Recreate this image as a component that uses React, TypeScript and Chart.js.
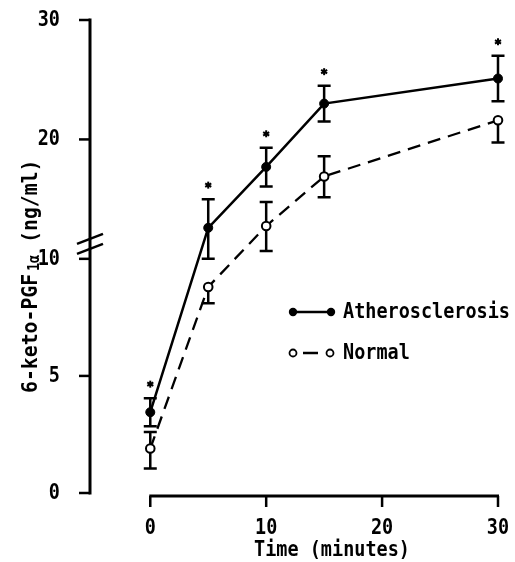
import { useEffect, useRef } from 'react';
import { Chart, registerables } from 'chart.js';

Chart.register(...registerables);

// ---- data ----
const timeMin = [0, 5, 10, 15, 30];
const atheroMean = [3.45, 12.6, 17.7, 23.0, 25.1];
const atheroUp = [0.6, 2.4, 1.6, 1.5, 1.9];
const atheroDown = [0.6, 2.6, 1.65, 1.5, 1.9];
const normalMean = [1.9, 8.8, 12.75, 16.9, 21.6];
const normalUp = [0.7, 0, 2.0, 1.7, 0];
const normalDown = [0.85, 0.7, 2.1, 1.75, 1.85];
const significant = [true, true, true, true, true];
const yTicks = [0, 5, 10, 20, 30];
const xTicks = [0, 10, 20, 30];

const BREAK_AT = 10;
const BREAK_RATIO = 0.51;
const tf = (v: number) => (v <= BREAK_AT ? v : BREAK_AT + (v - BREAK_AT) * BREAK_RATIO);

const FONT = 'bold 22px "DejaVu Sans Mono", "Liberation Mono", monospace';
const SX = 0.84;

function txt(ctx: CanvasRenderingContext2D, s: string, x: number, y: number, align: CanvasTextAlign, font = FONT, sx = SX) {
  ctx.save();
  ctx.translate(x, y);
  ctx.scale(sx, 1);
  ctx.font = font;
  ctx.textAlign = align;
  ctx.textBaseline = 'middle';
  ctx.fillStyle = '#000';
  ctx.fillText(s, 0, 0);
  ctx.restore();
}

const decor = {
  id: 'decor',
  beforeDatasetsDraw(chart: any) {
    const ctx: CanvasRenderingContext2D = chart.ctx;
    const xs = chart.scales.x;
    const ys = chart.scales.y;
    ctx.save();
    ctx.strokeStyle = '#000';
    ctx.lineCap = 'butt';
    // Y axis
    const ax = chart.chartArea.left;
    ctx.lineWidth = 3;
    ctx.beginPath();
    ctx.moveTo(ax, ys.getPixelForValue(tf(30)) - 1.5);
    ctx.lineTo(ax, ys.getPixelForValue(0) + 1.5);
    ctx.stroke();
    ctx.lineWidth = 2.5;
    yTicks.forEach((v) => {
      const py = ys.getPixelForValue(tf(v));
      ctx.beginPath();
      ctx.moveTo(ax - 11, py);
      ctx.lineTo(ax, py);
      ctx.stroke();
      txt(ctx, String(v), ax - 30, py, 'right');
    });
    // break marks
    const bY = ys.getPixelForValue(tf(BREAK_AT)) - 20;
    ctx.lineWidth = 2.5;
    [0, 10].forEach((d) => {
      ctx.beginPath();
      ctx.moveTo(ax - 13, bY + 5 + d);
      ctx.lineTo(ax + 13, bY - 5 + d);
      ctx.stroke();
    });
    // X axis
    const ay = ys.getPixelForValue(0) + 3;
    ctx.lineWidth = 3;
    ctx.beginPath();
    ctx.moveTo(xs.getPixelForValue(0) - 1, ay);
    ctx.lineTo(xs.getPixelForValue(30) + 1, ay);
    ctx.stroke();
    ctx.lineWidth = 2.5;
    xTicks.forEach((v) => {
      const px = xs.getPixelForValue(v);
      ctx.beginPath();
      ctx.moveTo(px, ay);
      ctx.lineTo(px, ay + 11);
      ctx.stroke();
      txt(ctx, String(v), px, ay + 32, 'center');
    });
    // axis titles
    txt(ctx, 'Time (minutes)', 332, 550, 'center');
    ctx.save();
    ctx.translate(37, 393);
    ctx.rotate(-Math.PI / 2);
    ctx.scale(0.9, 1);
    ctx.fillStyle = '#000';
    ctx.textBaseline = 'alphabetic';
    ctx.textAlign = 'left';
    ctx.font = FONT;
    const p1 = '6-keto-PGF';
    ctx.fillText(p1, 0, 0);
    let off = ctx.measureText(p1).width + 3;
    ctx.font = 'bold 15px "DejaVu Sans Mono", monospace';
    ctx.fillText('1α', off, 2);
    off += ctx.measureText('1α').width;
    ctx.font = FONT;
    ctx.fillText(' (ng/ml)', off, 0);
    ctx.restore();

    // error bars
    const drawErr = (mean: number[], up: number[], down: number[]) => {
      ctx.lineWidth = 2.5;
      timeMin.forEach((t, i) => {
        const px = xs.getPixelForValue(t);
        const pm = ys.getPixelForValue(tf(mean[i]));
        if (up[i] > 0) {
          const pu = ys.getPixelForValue(tf(mean[i] + up[i]));
          ctx.beginPath();
          ctx.moveTo(px, pm);
          ctx.lineTo(px, pu);
          ctx.moveTo(px - 6.5, pu);
          ctx.lineTo(px + 6.5, pu);
          ctx.stroke();
        }
        if (down[i] > 0) {
          const pd = ys.getPixelForValue(tf(mean[i] - down[i]));
          ctx.beginPath();
          ctx.moveTo(px, pm);
          ctx.lineTo(px, pd);
          ctx.moveTo(px - 6.5, pd);
          ctx.lineTo(px + 6.5, pd);
          ctx.stroke();
        }
      });
    };
    drawErr(atheroMean, atheroUp, atheroDown);
    drawErr(normalMean, normalUp, normalDown);
    ctx.restore();
  },
  afterDraw(chart: any) {
    const ctx: CanvasRenderingContext2D = chart.ctx;
    const xs = chart.scales.x;
    const ys = chart.scales.y;
    ctx.save();
    ctx.strokeStyle = '#000';
    ctx.fillStyle = '#000';
    // significance stars
    ctx.lineWidth = 2;
    timeMin.forEach((t, i) => {
      if (!significant[i]) return;
      const px = xs.getPixelForValue(t);
      const py = ys.getPixelForValue(tf(atheroMean[i] + atheroUp[i])) - 14;
      for (let k = 0; k < 3; k++) {
        const a = (k * Math.PI) / 3 + Math.PI / 2;
        ctx.beginPath();
        ctx.moveTo(px - 3.5 * Math.cos(a), py - 3.5 * Math.sin(a));
        ctx.lineTo(px + 3.5 * Math.cos(a), py + 3.5 * Math.sin(a));
        ctx.stroke();
      }
      ctx.beginPath();
      ctx.arc(px, py, 2, 0, Math.PI * 2);
      ctx.fill();
    });
    // legend
    const r1 = 312;
    const r2 = 353;
    ctx.lineWidth = 2.5;
    ctx.beginPath();
    ctx.moveTo(293, r1);
    ctx.lineTo(331, r1);
    ctx.stroke();
    [293, 331].forEach((x) => {
      ctx.beginPath();
      ctx.arc(x, r1, 4.2, 0, Math.PI * 2);
      ctx.fill();
    });
    txt(ctx, 'Atherosclerosis', 343, r1, 'left');
    ctx.beginPath();
    ctx.moveTo(303, r2);
    ctx.lineTo(318, r2);
    ctx.stroke();
    ctx.lineWidth = 1.8;
    [293, 330].forEach((x) => {
      ctx.beginPath();
      ctx.arc(x, r2, 3.5, 0, Math.PI * 2);
      ctx.fillStyle = '#fff';
      ctx.fill();
      ctx.stroke();
    });
    txt(ctx, 'Normal', 343, r2, 'left');
    ctx.restore();
  },
};

export default function App() {
  const ref = useRef<HTMLCanvasElement | null>(null);
  useEffect(() => {
    document.body.style.margin = '0';
    const chart = new Chart(ref.current as HTMLCanvasElement, {
      type: 'line',
      data: {
        datasets: [
          {
            label: 'Atherosclerosis',
            data: timeMin.map((t, i) => ({ x: t, y: tf(atheroMean[i]) })),
            borderColor: '#000',
            borderWidth: 2.5,
            pointRadius: 4.5,
            pointBackgroundColor: '#000',
            pointBorderColor: '#000',
            pointBorderWidth: 1,
            tension: 0,
            clip: false,
          },
          {
            label: 'Normal',
            data: timeMin.map((t, i) => ({ x: t, y: tf(normalMean[i]) })),
            borderColor: '#000',
            borderWidth: 2.3,
            borderDash: [13, 8],
            pointRadius: 4.3,
            pointBackgroundColor: '#fff',
            pointBorderColor: '#000',
            pointBorderWidth: 2,
            tension: 0,
            clip: false,
          },
        ],
      },
      options: {
        responsive: false,
        animation: false,
        devicePixelRatio: 1,
        layout: { padding: { left: 90, right: 17, top: 20, bottom: 69 } },
        scales: {
          x: { type: 'linear', display: false, min: -5.2, max: 30 },
          y: { type: 'linear', display: false, min: 0, max: tf(30) },
        },
        plugins: { legend: { display: false }, tooltip: { enabled: false } },
      } as any,
      plugins: [decor],
    } as any);
    return () => chart.destroy();
  }, []);
  return <canvas ref={ref} width={515} height={562} style={{ display: 'block' }} />;
}
